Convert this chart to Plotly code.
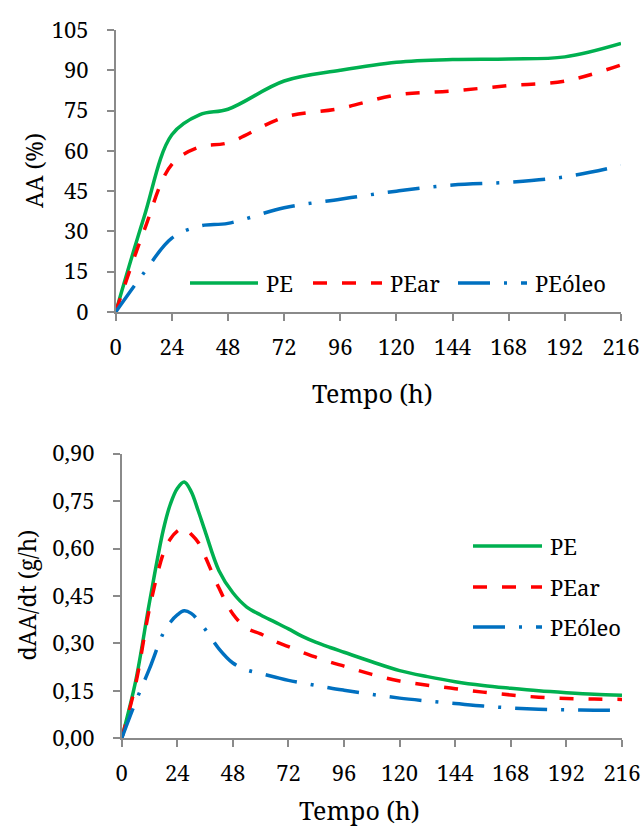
import plotly.graph_objects as go

# ---------------- data ----------------
t_aa = [0, 12, 24, 36, 48, 72, 96, 120, 144, 168, 192, 216]
aa_pe = [0, 35, 66, 73.5, 75.5, 86, 90, 93, 94, 94.2, 95, 100]
aa_pear = [0, 30, 55, 61.5, 63, 72.5, 75.8, 80.8, 82.3, 84.3, 86, 92]
aa_peoleo = [0, 14.5, 27.5, 32, 33, 38.8, 42, 45, 47.3, 48.3, 50.3, 54.5]

t_rate = [0, 6, 12, 18, 21, 24, 27, 30, 33, 36, 42, 48, 54, 60, 66, 72, 78, 84, 90, 96,
          108, 120, 132, 144, 156, 168, 180, 192, 204, 216]
r_pe = [0, 0.18, 0.43, 0.66, 0.74, 0.79, 0.81, 0.78, 0.72, 0.655, 0.53, 0.46, 0.415, 0.39, 0.368,
        0.346, 0.322, 0.303, 0.287, 0.272, 0.242, 0.214, 0.195, 0.179, 0.167, 0.158, 0.15, 0.144,
        0.139, 0.136]
r_pear = [0, 0.17, 0.41, 0.585, 0.63, 0.655, 0.665, 0.645, 0.62, 0.575, 0.475, 0.393, 0.348, 0.33,
          0.307, 0.29, 0.272, 0.256, 0.241, 0.228, 0.202, 0.181, 0.168, 0.157, 0.146, 0.137, 0.13,
          0.126, 0.124, 0.123]
r_peoleo = [0, 0.115, 0.22, 0.333, 0.367, 0.39, 0.403, 0.395, 0.373, 0.345, 0.283, 0.238, 0.216,
            0.205, 0.194, 0.183, 0.175, 0.167, 0.159, 0.152, 0.139, 0.127, 0.118, 0.11, 0.102,
            0.096, 0.092, 0.09, 0.089, 0.088]

series_names = ["PE", "PEar", "PEóleo"]
x_ticks = [0, 24, 48, 72, 96, 120, 144, 168, 192, 216]
aa_ticks = [0, 15, 30, 45, 60, 75, 90, 105]
rate_ticks = [0, 0.15, 0.30, 0.45, 0.60, 0.75, 0.90]

# ---------------- styling ----------------
W, H = 644, 827
colors = ["#00B050", "#FF0000", "#0070C0"]
dashes = ["solid", "14px,15px", "32px,14px,3px,14px"]
LW = 3.5
AXIS_COLOR = "#8A8A8A"
FONT = "Noto Serif"


def fx(p):
    return p / W


def fy(p):
    return 1 - p / H


fig = go.Figure()

for name, ys, c, d in zip(series_names, [aa_pe, aa_pear, aa_peoleo], colors, dashes):
    fig.add_trace(go.Scatter(x=t_aa, y=ys, name=name, mode="lines",
                             line=dict(color=c, width=LW, dash=d, shape="spline", smoothing=1),
                             xaxis="x", yaxis="y", showlegend=False))

for name, ys, c, d in zip(series_names, [r_pe, r_pear, r_peoleo], colors, dashes):
    fig.add_trace(go.Scatter(x=t_rate, y=ys, name=name, mode="lines",
                             line=dict(color=c, width=LW, dash=d, shape="spline", smoothing=1),
                             xaxis="x2", yaxis="y2", showlegend=False))

axis_common = dict(showline=True, linecolor=AXIS_COLOR, linewidth=1.5, ticks="outside",
                   ticklen=7, tickwidth=1.5, tickcolor=AXIS_COLOR, showgrid=False,
                   zeroline=False, automargin=False,
                   tickfont=dict(family=FONT, size=22, color="black"))

fig.update_layout(
    width=W, height=H, margin=dict(l=0, r=0, t=0, b=0, autoexpand=False),
    paper_bgcolor="white", plot_bgcolor="white",
    separators=",.", font=dict(family=FONT, color="black"),
    showlegend=False,
    xaxis=dict(domain=[fx(115.7), fx(621)], range=[0, 216], tickvals=x_ticks, anchor="y",
               ticklabelstandoff=8, **axis_common),
    yaxis=dict(domain=[fy(312), fy(30)], range=[0, 105], tickvals=aa_ticks, anchor="x",
               ticklabelstandoff=14, **axis_common),
    xaxis2=dict(domain=[fx(121.7), fx(622)], range=[0, 216], tickvals=x_ticks, anchor="y2",
                ticklabelstandoff=8, **axis_common),
    yaxis2=dict(domain=[fy(738.3), fy(453.6)], range=[0, 0.9], tickvals=rate_ticks,
                tickformat=".2f", anchor="x2", ticklabelstandoff=14, **axis_common),
)

title_font = dict(family=FONT, size=25, color="black")
ytitle_font = dict(family=FONT, size=23, color="black")
fig.add_annotation(text="Tempo (h)", x=fx(372), y=fy(393), xref="paper", yref="paper",
                   showarrow=False, xanchor="center", yanchor="middle", font=title_font)
fig.add_annotation(text="Tempo (h)", x=fx(360), y=fy(810), xref="paper", yref="paper",
                   showarrow=False, xanchor="center", yanchor="middle", font=title_font)
fig.add_annotation(text="AA (%)", x=fx(34), y=fy(171), xref="paper", yref="paper",
                   showarrow=False, xanchor="center", yanchor="middle", textangle=-90, font=ytitle_font)
fig.add_annotation(text="dAA/dt (g/h)", x=fx(26.6), y=fy(595), xref="paper", yref="paper",
                   showarrow=False, xanchor="center", yanchor="middle", textangle=-90, font=ytitle_font)

legend_font = dict(family=FONT, size=22, color="black")
top_legend = [(190, 258, 283), (313, 382, 283), (458, 527, 283)]
bottom_legend = [(473, 542, 546), (473, 542, 587), (473, 542, 627)]
for items in (top_legend, bottom_legend):
    for (x0, x1, yy), name, c, d in zip(items, series_names, colors, dashes):
        fig.add_shape(type="line", xref="paper", yref="paper", x0=fx(x0), x1=fx(x1),
                      y0=fy(yy), y1=fy(yy), line=dict(color=c, width=LW, dash=d))
        fig.add_annotation(text=name, x=fx(x1 + 6), y=fy(yy), xref="paper", yref="paper",
                           showarrow=False, xanchor="left", yanchor="middle", font=legend_font)

fig.write_html("out.html", config={"displayModeBar": False},
               post_script="document.body.style.margin='0px';")
